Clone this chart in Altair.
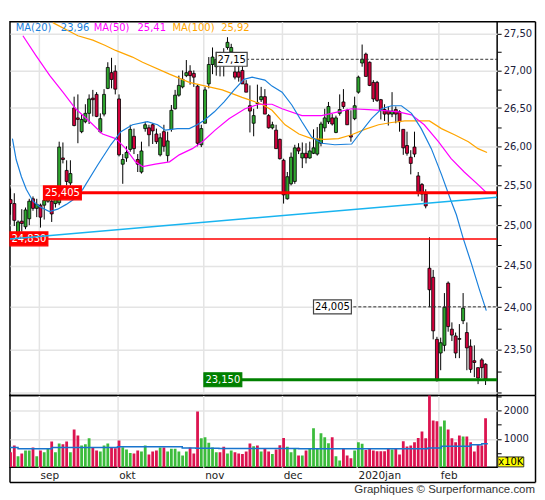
import altair as alt
import pandas as pd

# ---------------- data ----------------
opens = [25.32, 25.27, 24.90, 25.05, 24.98, 25.08, 25.33, 25.21, 25.25, 25.25,
         25.30, 25.30, 25.27, 25.28, 25.85, 25.69, 25.53, 26.50, 26.37, 26.19,
         26.32, 26.43, 26.63, 26.68, 26.19, 26.42, 26.76, 26.97, 26.99, 26.62,
         25.77, 25.85, 25.96, 26.13, 25.83, 25.67, 26.23, 26.24, 26.28, 26.16,
         25.89, 26.19, 25.88, 26.22, 26.49, 26.67, 26.78, 26.93, 26.99, 26.96,
         26.79, 26.02, 26.30, 26.82, 27.08, 27.05, 27.18, 27.22, 27.31, 27.25,
         26.98, 26.98, 27.00, 26.82, 26.53, 26.30, 26.57, 26.61, 26.65, 26.40,
         26.24, 26.21, 26.09, 25.82, 25.33, 25.52, 25.55, 25.98, 25.85, 25.91,
         25.85, 25.91, 25.90, 26.04, 26.24, 26.32, 26.37, 26.18, 26.43, 26.58,
         26.47, 26.14, 26.36, 26.71, 27.10, 27.22, 27.11, 26.84, 26.84, 26.61,
         26.48, 26.46, 26.42, 26.48, 26.45, 26.22, 26.01, 25.86, 25.99, 25.62,
         25.51, 25.39, 24.47, 24.36, 23.62, 23.46, 23.55, 24.29, 23.74, 23.66,
         23.63, 23.84, 23.70, 23.54, 23.37, 23.29, 23.38, 23.33]
highs = [25.46, 25.40, 25.06, 25.20, 25.22, 25.33, 25.36, 25.33, 25.27, 25.35,
         25.45, 25.36, 25.38, 26.06, 26.05, 25.82, 25.82, 26.65, 26.68, 26.42,
         26.55, 26.68, 26.74, 26.71, 26.43, 26.75, 27.11, 27.17, 27.07, 26.68,
         25.90, 26.00, 26.28, 26.23, 25.90, 26.06, 26.32, 26.28, 26.30, 26.23,
         26.17, 26.28, 26.19, 26.54, 26.74, 26.93, 27.00, 27.14, 27.07, 27.00,
         26.81, 26.28, 26.78, 27.18, 27.31, 27.25, 27.25, 27.30, 27.45, 27.36,
         27.11, 27.08, 27.18, 26.87, 26.80, 26.49, 26.81, 26.78, 26.75, 26.42,
         26.32, 26.28, 26.10, 25.84, 25.67, 25.92, 26.02, 26.04, 26.05, 26.04,
         26.06, 26.22, 26.25, 26.32, 26.49, 26.58, 26.42, 26.40, 26.68, 26.75,
         26.49, 26.47, 26.65, 26.93, 27.35, 27.24, 27.12, 26.87, 26.86, 26.62,
         26.55, 26.52, 26.71, 26.52, 26.47, 26.22, 26.19, 25.95, 26.19, 25.67,
         25.53, 25.45, 24.85, 24.45, 23.65, 23.64, 24.17, 24.31, 23.82, 23.70,
         23.80, 24.17, 23.82, 23.62, 23.55, 23.29, 23.40, 23.34]
lows = [25.13, 24.99, 24.87, 24.92, 24.95, 25.00, 25.18, 25.10, 24.97, 25.07,
        25.28, 25.04, 25.22, 25.25, 25.78, 25.50, 25.50, 26.26, 26.04, 26.17,
        26.30, 26.29, 26.39, 26.38, 26.17, 26.39, 26.75, 26.76, 26.68, 25.87,
        25.52, 25.80, 25.93, 25.90, 25.67, 25.65, 26.19, 26.00, 26.03, 26.03,
        25.87, 25.93, 25.80, 26.19, 26.48, 26.65, 26.76, 26.91, 26.81, 26.78,
        26.00, 25.99, 26.30, 26.76, 26.95, 26.93, 26.92, 26.92, 27.28, 27.12,
        26.88, 26.85, 26.82, 26.71, 26.18, 26.13, 26.49, 26.58, 26.42, 26.23,
        26.22, 25.97, 25.83, 25.27, 25.32, 25.50, 25.52, 25.90, 25.72, 25.78,
        25.84, 25.90, 25.88, 26.00, 26.19, 26.29, 26.27, 26.17, 26.40, 26.49,
        26.28, 26.06, 26.34, 26.69, 27.05, 26.92, 26.79, 26.58, 26.58, 26.35,
        26.33, 26.27, 26.38, 26.30, 26.19, 25.89, 25.88, 25.64, 25.86, 25.36,
        25.30, 25.21, 24.00, 23.62, 23.13, 23.26, 23.48, 23.71, 23.60, 23.40,
        23.40, 23.80, 23.26, 23.23, 23.18, 23.10, 23.17, 23.09]
closes = [25.27, 25.06, 25.04, 25.02, 25.19, 25.30, 25.21, 25.26, 25.10, 25.31,
          25.38, 25.14, 25.33, 25.99, 25.83, 25.55, 25.65, 26.27, 26.35, 26.35,
          26.43, 26.62, 26.61, 26.39, 26.36, 26.68, 27.04, 26.88, 26.75, 25.89,
          25.83, 25.92, 26.22, 25.97, 25.77, 25.94, 26.28, 26.15, 26.20, 26.06,
          26.11, 26.00, 26.07, 26.47, 26.67, 26.80, 26.88, 26.97, 26.93, 26.91,
          26.04, 26.23, 26.74, 27.08, 27.18, 27.15, 27.08, 27.12, 27.38, 27.31,
          26.91, 26.91, 26.82, 26.71, 26.46, 26.40, 26.56, 26.65, 26.42, 26.24,
          26.28, 25.97, 25.84, 25.38, 25.61, 25.86, 25.98, 25.94, 25.91, 25.85,
          25.94, 25.98, 26.09, 26.29, 26.37, 26.52, 26.29, 26.37, 26.48, 26.52,
          26.28, 26.12, 26.53, 26.91, 27.15, 26.92, 26.80, 26.62, 26.60, 26.48,
          26.42, 26.42, 26.46, 26.42, 26.32, 25.98, 25.91, 25.78, 25.90, 25.42,
          25.39, 25.24, 24.21, 23.72, 23.14, 23.58, 24.00, 23.77, 23.67, 23.46,
          23.62, 23.99, 23.52, 23.27, 23.35, 23.17, 23.29, 23.16]
volumes = [530, 765, 390, 480, 590, 590, 695, 390, 590, 530,
           650, 905, 530, 835, 810, 905, 530, 1330, 1120, 765,
           810, 1025, 695, 590, 555, 765, 835, 695, 670, 940,
           705, 625, 505, 480, 590, 555, 765, 445, 555, 590,
           695, 695, 555, 650, 650, 555, 410, 555, 695, 480,
           1965, 1025, 1060, 860, 695, 530, 530, 720, 480, 590,
           530, 480, 470, 555, 835, 740, 765, 555, 670, 555,
           470, 625, 780, 1035, 720, 530, 670, 410, 410, 590,
           650, 1375, 650, 1200, 1060, 850, 1060, 390, 235, 650,
           410, 320, 590, 885, 825, 610, 650, 590, 565, 565,
           565, 650, 625, 650, 445, 920, 730, 765, 885, 1035,
           1260, 1025, 2600, 1650, 1625, 1435, 1650, 1330, 1025, 885,
           1120, 1085, 1085, 885, 555, 790, 765, 1730]

ma20_idx = [0.5, 1.5, 2.9, 4.2, 6.0, 7.8, 10.4, 12.6, 14.9, 17.1, 19.3, 23.3, 26.8,
            29.5, 32.6, 36.6, 39.3, 41.4, 44.6, 47.8, 49.9, 51.8, 54.5, 57.1, 59.8,
            62.4, 64.6, 68.0, 69.9, 72.6, 75.2, 77.9, 80.5, 83.2, 86.7, 91.2, 93.1,
            96.5, 99.2, 101.9, 104.5, 107.2, 109.8, 112.5, 115.2, 117.8, 119.2,
            121.0, 123.2, 125.3, 127.2]
ma20_val = [26.10, 25.83, 25.61, 25.45, 25.30, 25.23, 25.17, 25.20, 25.26, 25.33,
            25.45, 25.76, 26.02, 26.19, 26.28, 26.32, 26.28, 26.21, 26.23, 26.23,
            26.28, 26.34, 26.45, 26.58, 26.74, 26.88, 26.91, 26.87, 26.79, 26.71,
            26.54, 26.32, 26.12, 26.04, 26.02, 26.03, 26.15, 26.36, 26.49, 26.53,
            26.53, 26.43, 26.23, 25.97, 25.64, 25.30, 25.13, 24.84, 24.53, 24.22,
            23.96]
ma50_idx = [3.3, 6.8, 10.5, 14.0, 17.4, 21.2, 24.6, 28.1, 30.8, 33.4, 35.3, 38.7,
            42.5, 45.1, 48.6, 51.3, 54.7, 58.4, 62.7, 66.4, 69.9, 72.6, 77.9, 83.2,
            86.7, 91.2, 95.7, 99.2, 103.7, 107.2, 110.6, 114.4, 117.8, 121.3,
            125.0, 127.2]
ma50_val = [27.47, 27.20, 26.93, 26.71, 26.49, 26.32, 26.16, 26.10, 25.97, 25.80,
            25.74, 25.77, 25.80, 25.89, 25.97, 26.06, 26.21, 26.36, 26.49, 26.55,
            26.55, 26.49, 26.40, 26.40, 26.44, 26.49, 26.48, 26.47, 26.45, 26.41,
            26.28, 26.06, 25.84, 25.67, 25.51, 25.41]
ma100_idx = [11.3, 18.0, 22.0, 25.2, 28.1, 32.6, 35.3, 42.5, 47.8, 51.3, 56.6,
             61.9, 67.2, 69.9, 73.4, 77.1, 80.5, 84.0, 87.7, 91.2, 94.7, 98.4,
             101.9, 105.4, 109.0, 112.0, 115.2, 118.7, 122.4, 125.0, 127.4]
ma100_val = [27.65, 27.47, 27.41, 27.34, 27.27, 27.18, 27.11, 26.95, 26.84, 26.80,
             26.74, 26.64, 26.55, 26.47, 26.28, 26.16, 26.10, 26.09, 26.10, 26.15,
             26.22, 26.28, 26.31, 26.33, 26.33, 26.33, 26.23, 26.15, 26.06, 25.97,
             25.92]
ma_names = ["MA(20)", "MA(50)", "MA(100)"]
ma_last = ["23,96", "25,41", "25,92"]

trend_idx = [-0.15, 130.1]
trend_val = [24.83, 25.35]

vol_ma_idx = [-0.15, 2, 11.1, 28.6, 45.9, 49.5, 55.7, 77, 111.6, 115.2, 123, 126, 127.6]
vol_ma_val = [695, 650, 695, 720, 680, 670, 660, 650, 680, 740, 790, 825, 825]

level_values = [25.405, 24.83, 27.15, 24.005, 23.15]
level_labels = ["25,405", "24,830", "27,15", "24,005", "23,150"]
level_start = [8.8, -0.15, 55.0, 81.0, 51.7]
level_kind = ["red", "redthin", "dash", "dash", "green"]

month_pos = [7.5, 28.5, 51.5, 72.5, 92.5, 114.5]
month_names = ["sep", "okt", "nov", "dec", "2020jan", "feb"]

price_ticks = [23.0, 23.25, 23.5, 23.75, 24.0, 24.25, 24.5, 24.75, 25.0, 25.25,
               25.5, 25.75, 26.0, 26.25, 26.5, 26.75, 27.0, 27.25, 27.5]
vol_ticks = [500, 1000, 1500, 2000, 2500]

# ---------------- layout / style ----------------
W = 489
H_PRICE = 375
H_VOL = 72
FRAME_R = 527.5
X_DOMAIN = [-0.15, 130.1]
PX_PER_DAY = W / (X_DOMAIN[1] - X_DOMAIN[0])
FONT = "DejaVu Sans"
RED = "#d4003c"
GREEN = "#2ea62e"
VRED = "#dc1450"
VGREEN = "#3cbc3c"
GRID = "#e4e4e4"
LABEL_C = "#20203a"

n = len(closes)
candles = pd.DataFrame({"i": list(range(n)), "o": opens, "h": highs,
                        "l": lows, "c": closes, "v": volumes})
candles["dir"] = ["up" if c >= o else "down" for o, c in zip(opens, closes)]

levels = pd.DataFrame({"level": level_values, "label": level_labels,
                       "start": level_start, "kind": level_kind})

xs = alt.Scale(domain=X_DOMAIN, nice=False, zero=False, padding=0)
ys = alt.Scale(type="log", domain=[22.97, 27.66], nice=False, zero=False, padding=0)
vs = alt.Scale(domain=[0, 2536], nice=False, padding=0)

one = pd.DataFrame({"d": [0]})

price_x_axis = alt.Axis(values=month_pos, grid=True, gridColor=GRID, gridWidth=1.5,
                        labels=False, ticks=False, domain=False, title=None)
price_y_axis = alt.Axis(
    orient="right", values=price_ticks,
    labelExpr="datum.value % 0.5 == 0 && datum.value > 23.2 ? replace(format(datum.value, '.2f'), '.', ',') : ''",
    labelOverlap=False, labelBound=False, tickSize=4, tickColor="black", tickWidth=1,
    labelFont=FONT, labelFontSize=10, labelColor=LABEL_C, labelPadding=2,
    domain=False, grid=True,
    gridColor={"condition": {"test": "datum.value % 0.5 == 0", "value": GRID},
               "value": "transparent"},
    gridWidth=1.5, title=None)


def PX(field):
    return alt.X(field, type="quantitative", scale=xs, axis=price_x_axis)


def PY(field):
    return alt.Y(field, type="quantitative", scale=ys, axis=price_y_axis)


base = alt.Chart(candles)
wicks = base.mark_rule(color="black", strokeWidth=1, clip=True).encode(
    x=PX("i"), y=PY("l"), y2="h:Q")
bodies = base.mark_bar(size=3, stroke="black", strokeWidth=0.8, clip=True).encode(
    x=PX("i"), y=PY("o"), y2="c:Q",
    fill=alt.condition("datum.dir == 'up'", alt.value(GREEN), alt.value(RED)))


def line_layer(idx, val, color, width):
    df = pd.DataFrame({"i": idx, "p": val})
    return alt.Chart(df).mark_line(color=color, strokeWidth=width, clip=True).encode(
        x=PX("i"), y=PY("p"))


ma100 = line_layer(ma100_idx, ma100_val, "#ffa500", 1.2)
ma50 = line_layer(ma50_idx, ma50_val, "#ff00ff", 1.2)
ma20 = line_layer(ma20_idx, ma20_val, "#1a80dc", 1.2)
trend = line_layer(trend_idx, trend_val, "#18b4f0", 1.5)


def level_group(kind, line_kw, box_fill, box_stroke, text_color):
    src = alt.Chart(levels).transform_filter(alt.datum.kind == kind).transform_calculate(
        box_end=f"datum.start + (7 * length(datum.label) - 4) / {PX_PER_DAY}",
        box_mid=f"datum.start + (7 * length(datum.label) - 4) / {2 * PX_PER_DAY}")
    line = src.mark_rule(clip=True, **line_kw).encode(
        x=PX("start"), x2=alt.value(W), y=PY("level"))
    box = src.mark_rect(fill=box_fill, stroke=box_stroke, strokeWidth=1.2,
                        yOffset=-7, y2Offset=7).encode(
        x=PX("start"), x2="box_end:Q", y=PY("level"), y2="level:Q")
    txt = src.mark_text(font=FONT, fontSize=10, color=text_color, align="center",
                        baseline="middle", dy=0.5).encode(
        x=PX("box_mid"), y=PY("level"), text="label:N")
    return [line, box, txt]


lvl_layers = []
lvl_layers += level_group("dash", dict(color="#333333", strokeWidth=1, strokeDash=[3, 2]),
                          "white", "#444444", "black")
lvl_layers += level_group("redthin", dict(color="#ff0000", strokeWidth=1.5),
                          "#ff0000", "#ff0000", "white")
lvl_layers += level_group("red", dict(color="#ff0000", strokeWidth=3),
                          "#ff0000", "#ff0000", "white")
lvl_layers += level_group("green", dict(color="#008000", strokeWidth=3),
                          "#008000", "#008000", "white")

legend_layers = []
legend_colors = ["#1a80dc", "#ff00ff", "#ffa500"]
legend_x = [5.7, 84, 163]
legend_vx = [51, 128, 212]
for name, val, col, lx, vx in zip(ma_names, ma_last, legend_colors, legend_x, legend_vx):
    legend_layers.append(alt.Chart(one).mark_text(
        text=name, font=FONT, fontSize=10, color=col, align="left", baseline="middle"
    ).encode(x=alt.value(lx), y=alt.value(6.5)))
    legend_layers.append(alt.Chart(one).mark_text(
        text=val, font=FONT, fontSize=10, color=col, align="left", baseline="middle"
    ).encode(x=alt.value(vx), y=alt.value(6.5)))

frame_price = [
    alt.Chart(one).mark_rule(color="black", strokeWidth=1.5).encode(
        x=alt.value(W), x2=alt.value(FRAME_R), y=alt.value(0)),
    alt.Chart(one).mark_rule(color="black", strokeWidth=1.5).encode(
        x=alt.value(FRAME_R), y=alt.value(0), y2=alt.value(H_PRICE)),
]

price = alt.layer(wicks, bodies, ma100, ma50, ma20, *lvl_layers, trend,
                  *legend_layers, *frame_price).properties(width=W, height=H_PRICE)

# ---------------- volume panel ----------------
month_expr = " : ".join(f"datum.value == {p} ? '{m}'" for p, m in zip(month_pos, month_names)) + " : ''"

vol_x_axis = alt.Axis(values=month_pos, labelExpr=month_expr, labelAlign="left",
                      labelFlush=False, labelOverlap=False, labelOffset=1.5,
                      grid=True, gridColor=GRID, gridWidth=1.5, ticks=False, domain=False,
                      labelFont=FONT, labelFontSize=10.5, labelColor="#222222",
                      labelPadding=3, labelBaseline="top", title=None)
vol_y_axis = alt.Axis(
    orient="right", values=vol_ticks,
    labelExpr="datum.value % 1000 == 0 ? format(datum.value, 'd') : ''",
    labelOverlap=False, labelBound=False, tickSize=4, tickColor="black", tickWidth=1,
    labelFont=FONT, labelFontSize=10, labelColor=LABEL_C, labelPadding=2,
    domain=False, grid=True,
    gridColor={"condition": {"test": "datum.value % 1000 == 0", "value": GRID},
               "value": "transparent"},
    gridWidth=1.5, title=None)


def VX(field):
    return alt.X(field, type="quantitative", scale=xs, axis=vol_x_axis)


def VY(field):
    return alt.Y(field, type="quantitative", scale=vs, axis=vol_y_axis)


vol_bars = base.mark_bar(size=2.8, clip=True).encode(
    x=VX("i"), y=VY("v"),
    fill=alt.condition("datum.dir == 'up'", alt.value(VGREEN), alt.value(VRED)))

vol_ma = alt.Chart(pd.DataFrame({"i": vol_ma_idx, "v": vol_ma_val})).mark_line(
    color="#1874cd", strokeWidth=1.5, interpolate="step-after", clip=True).encode(
    x=VX("i"), y=VY("v"))

unit_box = alt.Chart(one).mark_rect(fill="#ffff00", stroke="#333333", strokeWidth=1).encode(
    x=alt.value(W + 0.7), x2=alt.value(W + 26.7), y=alt.value(61.7), y2=alt.value(71.7))
unit_txt = alt.Chart(one).mark_text(text="x10K", font=FONT, fontSize=10, color="black",
                                    align="center", baseline="middle").encode(
    x=alt.value(W + 13.7), y=alt.value(66.9))

frame_vol = [
    alt.Chart(one).mark_rule(color="black", strokeWidth=1.5).encode(
        x=alt.value(W), x2=alt.value(FRAME_R), y=alt.value(0)),
    alt.Chart(one).mark_rule(color="black", strokeWidth=1.5).encode(
        x=alt.value(FRAME_R), y=alt.value(0), y2=alt.value(87.3)),
    alt.Chart(one).mark_rule(color="black", strokeWidth=1.5).encode(
        x=alt.value(0), x2=alt.value(FRAME_R), y=alt.value(87.3)),
    alt.Chart(one).mark_rule(color="black", strokeWidth=1.5).encode(
        x=alt.value(0), y=alt.value(H_VOL), y2=alt.value(87.3)),
]

footer = alt.Chart(one).mark_text(text="Graphiques © Surperformance.com",
                                  font="Liberation Sans", fontSize=11.5, color="#333333",
                                  align="right", baseline="middle").encode(
    x=alt.value(FRAME_R - 0.5), y=alt.value(94.5))

volume = alt.layer(vol_bars, vol_ma, unit_box, unit_txt, *frame_vol, footer).properties(
    width=W, height=H_VOL)

chart = alt.vconcat(price, volume, spacing=0, bounds="flush").properties(
    padding={"left": 0, "top": 11, "right": 0, "bottom": 0},
    background="white",
).configure_view(stroke="black", strokeWidth=1.5)

chart.save("out.html", embed_options={"renderer": "svg", "actions": False})
